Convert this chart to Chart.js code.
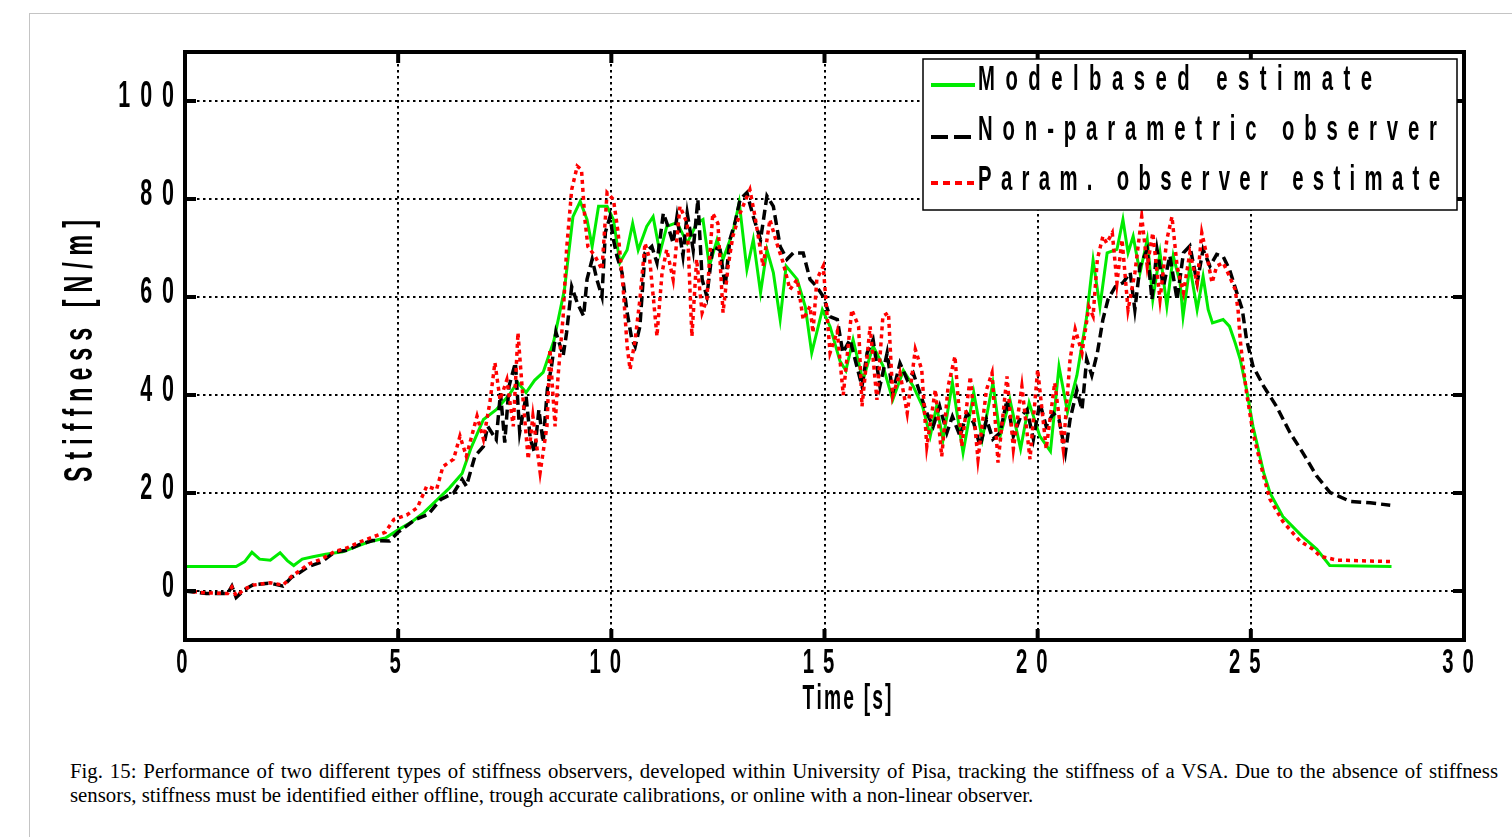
<!DOCTYPE html>
<html>
<head>
<meta charset="utf-8">
<script src="https://cdn.jsdelivr.net/npm/chart.js@4.4.1/dist/chart.umd.min.js"></script>
<style>
  html, body { margin: 0; padding: 0; background: #fff; overflow: hidden; }
  body { width: 1512px; height: 837px; position: relative; }
  #frame { position: absolute; left: 29px; top: 13px; width: 1600px; height: 900px; border: 1px solid #c4c4c4; }
  #chart { position: absolute; left: 0; top: 0; }
  #caption {
    position: absolute; left: 70px; top: 759px; width: 1428px;
    font-family: "Liberation Serif", "Times New Roman", serif;
    font-size: 20.8px; line-height: 24px; color: #000; white-space: nowrap;
  }
  #caption .l1 { text-align: justify; text-align-last: justify; }
</style>
</head>
<body>
<div id="frame"></div>
<canvas id="chart" width="1512" height="740"></canvas>
<div id="caption"><div class="l1">Fig. 15: Performance of two different types of stiffness observers, developed within University of Pisa, tracking the stiffness of a VSA. Due to the absence of stiffness</div><div>sensors, stiffness must be identified either offline, trough accurate calibrations, or online with a non-linear observer.</div></div>
<script>
// Axis ticks
const xTicks = [0, 5, 10, 15, 20, 25, 30];
const yTicks = [0, 20, 40, 60, 80, 100];

// Model based estimate (green, solid)
const modelT = [0, 0.6, 1.2, 1.4, 1.57, 1.75, 2.0, 2.23, 2.4, 2.55, 2.75, 3.0, 3.3, 3.7, 4.0, 4.3, 4.7, 5.0, 5.3, 5.6,
  5.9, 6.2, 6.5, 6.7, 7.0, 7.3, 7.6, 7.8, 8.0, 8.2, 8.4, 8.65, 8.9, 9.1, 9.27, 9.43, 9.55, 9.7, 9.9, 10.05,
  10.2, 10.37, 10.5, 10.63, 10.83, 10.98, 11.14, 11.3, 11.54, 11.78, 12.0, 12.15, 12.3, 12.48, 12.62, 12.85, 13.0, 13.18, 13.33, 13.5,
  13.65, 13.8, 13.96, 14.1, 14.36, 14.55, 14.7, 14.95, 15.13, 15.36, 15.5, 15.67, 15.9, 16.14, 16.37, 16.6, 16.85, 17.08, 17.3, 17.48,
  17.63, 17.78, 18.0, 18.25, 18.5, 18.7, 18.95, 19.12, 19.35, 19.6, 19.8, 20.05, 20.3, 20.5, 20.7, 20.92, 21.15, 21.3, 21.46, 21.63,
  21.86, 22.0, 22.12, 22.24, 22.4, 22.57, 22.7, 22.87, 23.03, 23.18, 23.34, 23.41, 23.57, 23.74, 23.88, 24.0, 24.1, 24.35, 24.5, 24.63,
  24.75, 24.9, 25.05, 25.3, 25.45, 25.75, 26.2, 26.55, 26.85, 28.3];
const modelV = [5, 5, 5, 6, 7.9, 6.5, 6.3, 7.8, 6.2, 5.2, 6.5, 7, 7.5, 8, 9, 10, 10.8, 12.5, 14, 16,
  18.5, 21, 24, 29, 35, 37, 40, 42.6, 40.5, 43, 44.6, 51, 61.5, 76.4, 79.5, 75.8, 70.3, 78.5, 78.5, 75.8,
  67, 69.6, 75, 69.6, 74.4, 76.4, 69, 74.4, 75.2, 71, 75, 75.8, 66.3, 71.7, 67.7, 73.2, 79.3, 65.6, 71.7, 60.9,
  69.6, 65, 55.4, 66.3, 63.6, 58, 48.6, 57.4, 54, 47, 45, 51.3, 43, 50, 46, 39, 45, 41.8, 37.7, 31.6,
  37.7, 30.9, 42.5, 28.2, 40.5, 31, 42.5, 31.6, 39, 29, 38.4, 31.6, 28.5, 45.8, 36.5, 44, 56, 67.5, 58, 69,
  69.7, 75.8, 69, 72.4, 64.9, 71.7, 59.5, 69, 58.1, 68.4, 62.9, 56, 66.3, 57.4, 64.2, 57.4, 54.7, 55.4, 54, 50.7,
  47.3, 41.1, 33.6, 24.2, 20, 15.2, 11.2, 8.5, 5.2, 5];

// Non-parametric observer (black, dashed)
const nonParT = [0, 0.5, 1.0, 1.1, 1.2, 1.4, 1.6, 2.0, 2.3, 2.5, 2.7, 2.9, 3.2, 3.5, 3.8, 4.1, 4.4, 4.8, 5.0, 5.4,
  5.7, 6.0, 6.3, 6.5, 6.6, 6.8, 7.0, 7.1, 7.3, 7.4, 7.5, 7.6, 7.75, 7.85, 8.0, 8.1, 8.2, 8.3, 8.4, 8.5,
  8.6, 8.7, 8.87, 8.95, 9.07, 9.2, 9.35, 9.43, 9.55, 9.66, 9.78, 9.86, 9.97, 10.05, 10.13, 10.25, 10.37, 10.48, 10.56, 10.67,
  10.79, 10.95, 11.07, 11.22, 11.33, 11.45, 11.54, 11.68, 11.78, 11.92, 12.03, 12.13, 12.24, 12.38, 12.55, 12.67, 12.78, 12.9, 13.02, 13.18,
  13.33, 13.5, 13.65, 13.8, 13.96, 14.12, 14.27, 14.5, 14.66, 14.82, 14.97, 15.13, 15.3, 15.43, 15.6, 15.76, 15.88, 16.0, 16.14, 16.3,
  16.47, 16.6, 16.77, 16.94, 17.08, 17.24, 17.4, 17.55, 17.7, 17.87, 18.0, 18.18, 18.34, 18.5, 18.65, 18.8, 18.95, 19.12, 19.28, 19.43,
  19.6, 19.75, 19.9, 20.05, 20.2, 20.37, 20.5, 20.65, 20.76, 20.92, 21.04, 21.15, 21.27, 21.4, 21.53, 21.65, 21.82, 22.0, 22.17, 22.28,
  22.4, 22.57, 22.68, 22.8, 22.95, 23.1, 23.27, 23.42, 23.57, 23.74, 23.88, 24.04, 24.2, 24.35, 24.5, 24.67, 24.8, 24.9, 25.05, 25.3,
  25.6, 25.92, 26.22, 26.55, 26.86, 27.33, 27.8, 28.27];
const nonParV = [0, -0.5, -0.5, 1, -1.3, 0.3, 1.3, 1.6, 1, 2.8, 3.8, 5, 5.9, 7.9, 8.3, 9.5, 10.3, 10.2, 12, 14.6,
  15.6, 18.7, 20, 22.8, 21.4, 27.5, 29.5, 33.6, 30.9, 40.4, 30.3, 41.8, 46.6, 32.4, 39.8, 31, 28.2, 37, 30.3, 41.2,
  46, 52.8, 48, 52.7, 62.1, 58.8, 56.1, 63.6, 67.7, 63.6, 60.1, 73.2, 76.4, 71.7, 68.4, 65, 56.8, 51.4, 49.9, 54,
  69, 70.3, 67, 77.1, 74.4, 71, 76.4, 68.4, 77.1, 69.6, 79.9, 63.6, 60.1, 70.3, 69.6, 62.1, 71.7, 75.1, 79.9, 81.3,
  76.4, 71.7, 80.6, 78.5, 70.3, 67.7, 69, 69, 63.6, 62.1, 60.1, 56, 55.4, 48.6, 51.3, 45.8, 41.8, 48.6, 51.3, 41.8,
  48.6, 40.4, 46.5, 43.1, 44.5, 40.4, 36.3, 33.6, 37.7, 32.3, 35.6, 31.6, 36.3, 34.3, 29.5, 35, 31, 32.3, 39, 31.6,
  35.6, 37, 31, 38.4, 33.6, 36.3, 35, 28.2, 35, 41, 37, 47.3, 44, 48.6, 55.4, 59.5, 62.1, 62.9, 65, 57.4,
  66.3, 69.7, 59.5, 69.7, 62.1, 68.4, 59.5, 69, 70.4, 62.9, 69.7, 66.3, 68.7, 68.3, 65.6, 60.9, 57.4, 51.3, 45.9, 41.8,
  37.7, 32.3, 28.2, 23.4, 20.1, 18.3, 18, 17.5];

// Param. observer estimate (red, dotted)
const paramT = [0, 0.5, 1.0, 1.1, 1.2, 1.4, 1.6, 2.0, 2.3, 2.5, 2.7, 2.9, 3.2, 3.5, 3.8, 4.1, 4.4, 4.7, 4.9, 5.2,
  5.45, 5.67, 5.9, 6.05, 6.3, 6.45, 6.6, 6.85, 7.0, 7.15, 7.27, 7.39, 7.55, 7.7, 7.81, 7.93, 8.05, 8.16, 8.33, 8.49,
  8.56, 8.68, 8.75, 8.87, 8.95, 9.07, 9.2, 9.3, 9.38, 9.45, 9.62, 9.78, 9.9, 10.05, 10.16, 10.28, 10.37, 10.44, 10.56, 10.67,
  10.79, 10.9, 11.07, 11.19, 11.3, 11.45, 11.61, 11.78, 11.89, 12.0, 12.13, 12.24, 12.38, 12.5, 12.62, 12.74, 12.85, 13.02, 13.25, 13.37,
  13.56, 13.72, 13.88, 14.03, 14.19, 14.36, 14.5, 14.66, 14.73, 14.82, 14.97, 15.13, 15.3, 15.44, 15.64, 15.8, 15.88, 16.07, 16.23, 16.37,
  16.5, 16.6, 16.77, 16.94, 17.13, 17.28, 17.4, 17.6, 17.75, 17.9, 18.06, 18.22, 18.42, 18.6, 18.8, 18.93, 19.07, 19.28, 19.43, 19.63,
  19.82, 20.0, 20.2, 20.4, 20.6, 20.76, 20.88, 21.04, 21.2, 21.3, 21.4, 21.53, 21.62, 21.75, 21.86, 21.98, 22.12, 22.28, 22.44, 22.57,
  22.7, 22.87, 23.03, 23.15, 23.27, 23.42, 23.57, 23.74, 23.85, 23.97, 24.09, 24.2, 24.35, 24.5, 24.63, 24.7, 24.75, 24.8, 24.9, 25.05,
  25.3, 25.45, 25.75, 26.15, 26.46, 26.63, 27.02, 28.3];
const paramV = [0, -0.4, -0.5, 0.8, -1, 0.4, 1.2, 1.7, 1.2, 3, 4.2, 5.5, 6.5, 8, 8.8, 10, 11, 12, 14.6, 15.5,
  17, 21.4, 20.7, 25.4, 26.9, 31.6, 27.5, 35.7, 31, 38.4, 46.6, 39, 43.1, 33.6, 52.7, 39, 26.9, 35.7, 24.2, 33.6,
  49.3, 33.6, 43.8, 56.1, 69.7, 81.9, 86.7, 86, 75.8, 70.3, 68.3, 65.6, 81.3, 79.9, 73.1, 61.5, 50, 45.2, 51.4, 59.5,
  71, 67.7, 52, 65, 69.7, 63.6, 78.5, 75, 52, 67.7, 56.8, 59.5, 77.1, 75, 56.8, 66.3, 72.4, 77.1, 81.9, 76.4,
  66.3, 75.8, 71, 67, 61.5, 63.6, 55.4, 58.1, 52.7, 63.6, 66.3, 48.6, 53, 40, 57.4, 54, 37.7, 54, 39, 56.1,
  56.8, 39.8, 44.5, 36.3, 49.3, 45.2, 29.5, 41.1, 27.5, 41.8, 47.9, 29.5, 43.8, 26.9, 41.1, 44.5, 26.2, 43.8, 29, 41.8,
  26.9, 45.2, 29, 42.5, 29, 47.3, 53.4, 48.6, 58, 56.1, 67.7, 72.4, 71, 73.1, 62.9, 71.7, 57.4, 64.9, 76.4, 66.3,
  73.1, 59.5, 71.7, 76.4, 66.3, 60.9, 69, 62.9, 73.1, 68.4, 62.9, 66.3, 67, 64.2, 61.6, 57.4, 51.4, 47.3, 40.4, 32.3,
  23.4, 18.7, 14.2, 10.2, 8.5, 7.1, 6.3, 6];

const legendLabels = ['Modelbased estimate', 'Non-parametric observer', 'Param. observer estimate'];

function toPoints(ts, vs) {
  return ts.map((t, i) => ({ x: t, y: vs[i] }));
}

// Draws narrow, letter-spaced text the way the exported figure looks
function drawCondensed(ctx, str, x, y, o) {
  ctx.save();
  ctx.translate(x, y);
  if (o.rotate) ctx.rotate(o.rotate);
  ctx.font = 'bold ' + o.size + 'px "Liberation Sans", Arial, sans-serif';
  ctx.fillStyle = '#000';
  ctx.textBaseline = 'alphabetic';
  ctx.textAlign = 'left';
  const chars = Array.from(str);
  const widths = chars.map(c => ctx.measureText(c).width * o.sx);
  const natural = widths.reduce((a, b) => a + b, 0);
  const gap = o.width && chars.length > 1 ? (o.width - natural) / (chars.length - 1) : (o.gap || 0);
  const total = natural + gap * (chars.length - 1);
  let pos = o.align === 'right' ? -total : o.align === 'center' ? -total / 2 : 0;
  chars.forEach((c, i) => {
    ctx.save();
    ctx.translate(pos, 0);
    ctx.scale(o.sx, 1);
    ctx.fillText(c, 0, 0);
    ctx.restore();
    pos += widths[i] + gap;
  });
  ctx.restore();
}

const framePlugin = {
  id: 'matlabFrame',
  afterDatasetsDraw(chart) {
    const ctx = chart.ctx;
    const a = chart.chartArea;
    const xs = chart.scales.x;
    const ys = chart.scales.y;
    ctx.save();
    ctx.strokeStyle = '#000';
    ctx.lineWidth = 4;
    ctx.setLineDash([]);
    ctx.strokeRect(a.left, a.top, a.right - a.left, a.bottom - a.top);
    // inward tick marks on all four sides
    ctx.beginPath();
    xTicks.forEach(v => {
      const px = xs.getPixelForValue(v);
      ctx.moveTo(px, a.bottom); ctx.lineTo(px, a.bottom - 11);
      ctx.moveTo(px, a.top); ctx.lineTo(px, a.top + 11);
    });
    yTicks.forEach(v => {
      const py = ys.getPixelForValue(v);
      ctx.moveTo(a.left, py); ctx.lineTo(a.left + 11, py);
      ctx.moveTo(a.right, py); ctx.lineTo(a.right - 11, py);
    });
    ctx.stroke();
    ctx.restore();

    // tick labels
    yTicks.forEach(v => {
      drawCondensed(ctx, String(v), 174, ys.getPixelForValue(v) + 6, { size: 37, sx: 0.58, gap: 10, align: 'right' });
    });
    xTicks.forEach(v => {
      const s = String(v);
      drawCondensed(ctx, s, xs.getPixelForValue(v) - 3 * s.length, 673, { size: 35, sx: 0.58, gap: 9, align: 'center' });
    });

    // axis titles
    drawCondensed(ctx, 'Time [s]', 847, 709, { size: 35, sx: 0.55, width: 89, align: 'center' });
    drawCondensed(ctx, 'Stiffness [N/m]', 92, 351, { size: 40, sx: 0.58, width: 262, align: 'center', rotate: -Math.PI / 2 });

    // legend box
    const box = { x: 923, y: 59, w: 534, h: 151 };
    ctx.save();
    ctx.fillStyle = '#fff';
    ctx.fillRect(box.x, box.y, box.w, box.h);
    ctx.strokeStyle = '#000';
    ctx.lineWidth = 1.5;
    ctx.strokeRect(box.x, box.y, box.w, box.h);
    const rows = [
      { ds: 0, lineY: 85, base: 90, width: 394, dash: [] },
      { ds: 1, lineY: 137, base: 140, width: 459, dash: [17, 6] },
      { ds: 2, lineY: 183, base: 190, width: 462, dash: [7, 5] }
    ];
    rows.forEach(r => {
      const d = chart.data.datasets[r.ds];
      ctx.beginPath();
      ctx.strokeStyle = d.borderColor;
      ctx.lineWidth = 4;
      ctx.setLineDash(r.dash);
      ctx.moveTo(931, r.lineY);
      ctx.lineTo(975, r.lineY);
      ctx.stroke();
      drawCondensed(ctx, legendLabels[r.ds], 978, r.base, { size: 35, sx: 0.58, width: r.width, align: 'left' });
    });
    ctx.restore();
  }
};

const gridStyle = { color: '#000', lineWidth: 2, drawTicks: false };
const dashedGrid = { display: false, dash: [2.5, 3.5] };

new Chart(document.getElementById('chart').getContext('2d'), {
  type: 'line',
  data: {
    datasets: [
      {
        label: legendLabels[0],
        data: toPoints(modelT, modelV),
        borderColor: 'rgb(0, 235, 0)',
        borderWidth: 3,
        pointRadius: 0,
        tension: 0,
        order: 2
      },
      {
        label: legendLabels[1],
        data: toPoints(nonParT, nonParV),
        borderColor: '#000',
        borderWidth: 3.5,
        borderDash: [10, 5],
        pointRadius: 0,
        tension: 0,
        order: 1
      },
      {
        label: legendLabels[2],
        data: toPoints(paramT, paramV),
        borderColor: '#ff0000',
        borderWidth: 3.5,
        borderDash: [4, 4],
        pointRadius: 0,
        tension: 0,
        order: 0
      }
    ]
  },
  options: {
    responsive: false,
    animation: false,
    devicePixelRatio: 1,
    events: [],
    layout: { padding: { left: 0, right: 48, top: 52, bottom: 0 } },
    scales: {
      x: {
        type: 'linear',
        min: 0,
        max: 30,
        grid: gridStyle,
        border: dashedGrid,
        ticks: { display: false },
        afterBuildTicks: s => { s.ticks = xTicks.map(v => ({ value: v })); },
        afterFit: s => { s.height = 100; }
      },
      y: {
        type: 'linear',
        min: -10,
        max: 110,
        grid: gridStyle,
        border: dashedGrid,
        ticks: { display: false },
        afterBuildTicks: s => { s.ticks = yTicks.map(v => ({ value: v })); },
        afterFit: s => { s.width = 185; }
      }
    },
    plugins: {
      legend: { display: false },
      tooltip: { enabled: false }
    }
  },
  plugins: [framePlugin]
});
</script>
</body>
</html>
